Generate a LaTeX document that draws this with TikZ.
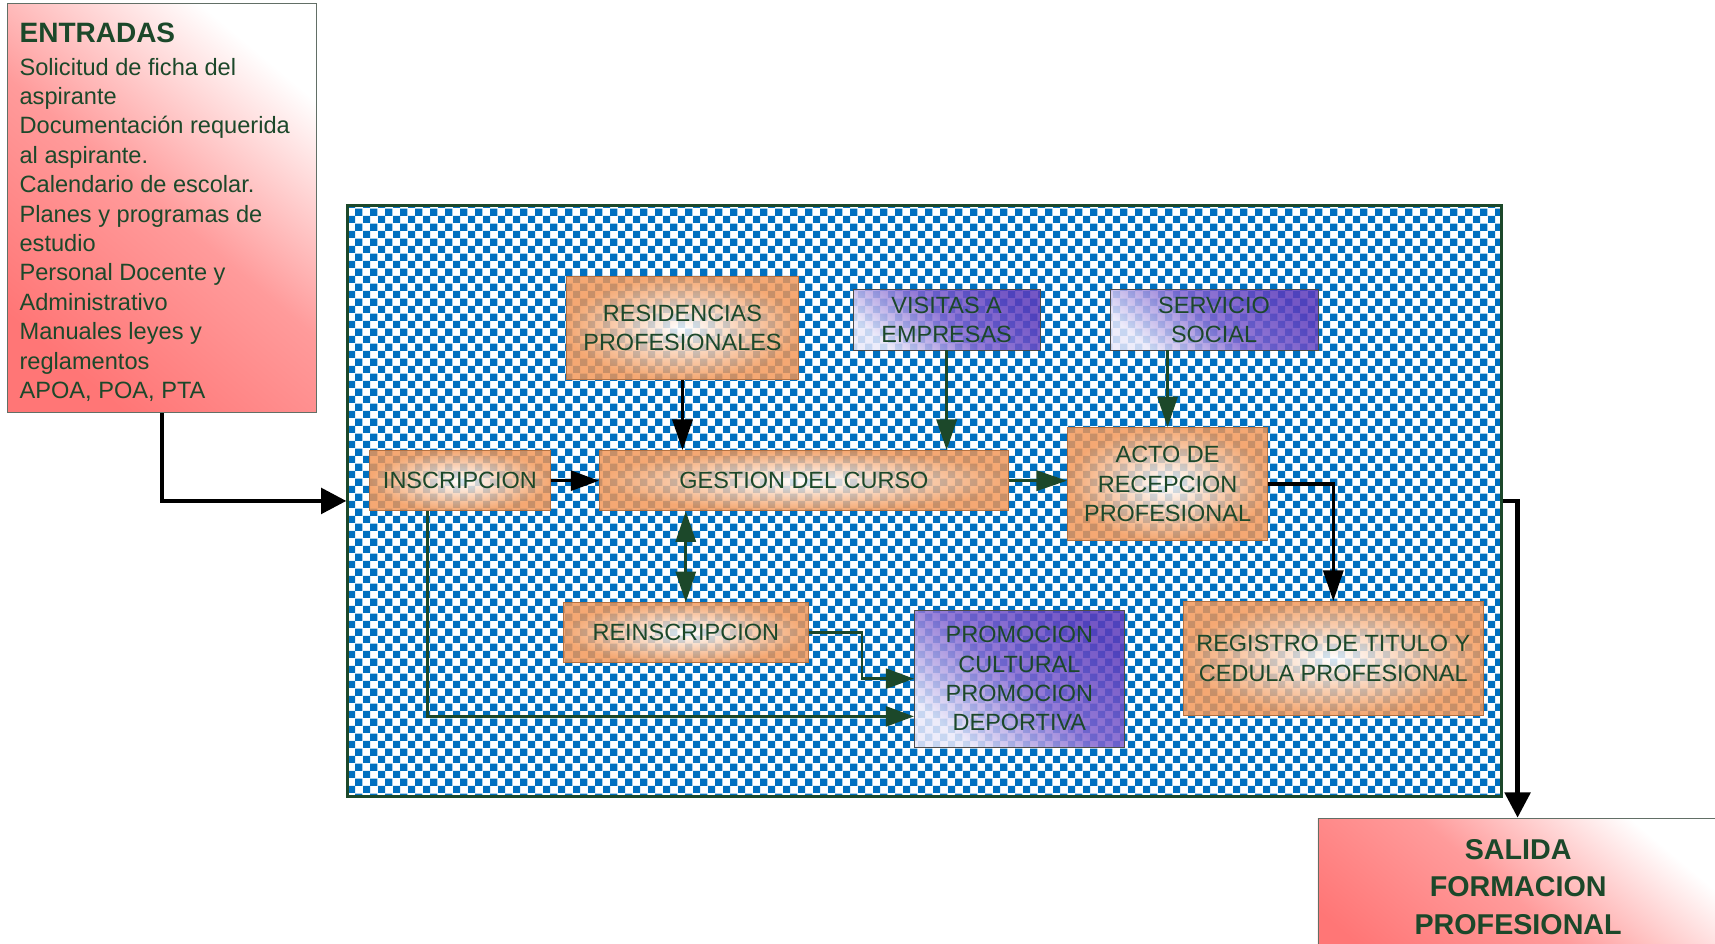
\documentclass[tikz,border=0pt]{standalone}
\usepackage{fontspec}
\setmainfont{Liberation Sans}
\usetikzlibrary{arrows.meta,patterns}
\newdimen\upx \upx=0.8203pt
\definecolor{tgreen}{RGB}{28,72,42}
\definecolor{cblue}{RGB}{0,112,192}
\definecolor{lred}{RGB}{255,118,118}
\definecolor{mred}{RGB}{255,155,155}
\definecolor{orng}{RGB}{243,150,85}
\definecolor{purp}{RGB}{92,58,188}
\definecolor{mpurp}{RGB}{130,100,208}
\definecolor{lpurp}{RGB}{235,233,250}
\newcommand\boxfont{\fontsize{17.6}{22}\selectfont}
\begin{document}
\begin{tikzpicture}[x=0.8203pt,y=-0.8203pt,
  sz/.style 2 args={minimum width=#1\upx, minimum height=#2\upx, inner sep=0pt},
  obox/.style={draw=orng!75!black, line width=0.7pt, inner color=white, outer color=orng,
    fill opacity=0.82, text opacity=1, text=tgreen, font=\boxfont, align=center},
  pbox/.style={draw=gray!60!black, line width=0.7pt, top color=purp, bottom color=lpurp,
    middle color=mpurp, shading angle=-40, fill opacity=0.85, text opacity=1,
    text=tgreen, font=\boxfont, align=center},
  rbox/.style={draw=gray!70!tgreen, line width=0.7pt, top color=white, bottom color=lred,
    middle color=mred, shading angle=-40},
  bigarr/.style={line width=3.5pt, black, -{Triangle[length=19pt,width=19pt]}},
  midarr/.style={line width=2.4pt, -{Triangle[length=23pt,width=15pt]}},
  thinarr/.style={line width=1.9pt, -{Triangle[length=21pt,width=15pt]}},
  dblarr/.style={line width=2.4pt, {Triangle[length=23pt,width=15pt]}-{Triangle[length=23pt,width=15pt]}}
]
\path[use as bounding box] (0,0) rectangle (1568,863);
\clip (0,0) rectangle (1568,863);
\fill[white] (0,0) rectangle (1568,863);

% main process area
\node[sz={1055}{540}, draw=tgreen, line width=2.2pt, pattern=checkerboard, pattern color=cblue] (main) at (845.5,458) {};

% inputs
\node[sz={282}{374}, rbox] (entradas) at (148,190) {};
\node[anchor=base west, inner sep=0pt, text=tgreen, font=\fontsize{21}{24}\selectfont\bfseries] (entT) at (17.7,39) {ENTRADAS};
\node[anchor=base west, inner sep=0pt, text=tgreen, font=\fontsize{17.7}{22.05}\selectfont] (entL) at (17.7,68.6)
 {\begin{tabular}[t]{@{}l@{}}Solicitud de ficha del\\ aspirante\\ Documentación requerida\\ al aspirante.\\ Calendario de escolar.\\ Planes y programas de\\ estudio\\ Personal Docente y\\ Administrativo\\ Manuales leyes y\\ reglamentos\\ APOA, POA, PTA\end{tabular}};

% output
\node[sz={365}{152}, rbox] (salida) at (1387.5,824) {};
\node[anchor=base, inner sep=0pt, text=tgreen, font=\fontsize{21.5}{27.9}\selectfont\bfseries] (salT) at (1388,786)
 {\begin{tabular}[t]{@{}c@{}}SALIDA\\ FORMACION\\ PROFESIONAL\end{tabular}};

% process boxes
\node[obox, sz={212}{94}] (resid) at (624,300) {RESIDENCIAS\\PROFESIONALES};
\node[pbox, sz={171}{55}] (visitas) at (865.5,292.5) {VISITAS A\\EMPRESAS};
\node[pbox, sz={190}{55}] (servicio) at (1110,292.5) {SERVICIO\\SOCIAL};
\node[obox, sz={165}{55}] (inscr) at (420.5,439.5) {INSCRIPCION};
\node[obox, sz={374}{55}] (gestion) at (735,439.5) {GESTION DEL CURSO};
\node[obox, sz={183}{103}] (acto) at (1067.5,442.5) {ACTO DE\\RECEPCION\\PROFESIONAL};
\node[obox, sz={224}{55}] (reins) at (627,578.5) {REINSCRIPCION};
\node[pbox, sz={192}{125}] (promo) at (932,620.5) {PROMOCION\\CULTURAL\\PROMOCION\\DEPORTIVA};
\node[obox, sz={274}{104}] (registro) at (1219,602) {REGISTRO DE TITULO Y\\CEDULA PROFESIONAL};

% connectors
\draw[bigarr] (entradas.south) |- (main.west);
\draw[bigarr] (main.east) -| (salida.north);
\draw[thinarr, black] (inscr.east) -- (gestion.west);
\draw[midarr, black] (resid.south) -- (resid.south |- gestion.north);
\draw[midarr, tgreen] (visitas.south) -- (visitas.south |- gestion.north);
\draw[midarr, tgreen] (gestion.east) -- (gestion.east -| acto.west);
\draw[midarr, tgreen] (acto.north |- servicio.south) -- (acto.north);
\draw[midarr, black] (acto.east) -| (registro.north);
\draw[dblarr, tgreen] (reins.north |- gestion.south) -- (reins.north);
\coordinate (rp) at (788,600);
\draw[thinarr, tgreen] (reins.east) -| (rp) |- (promo.west);
\coordinate (ib) at (391,655);
\draw[thinarr, tgreen] (ib |- inscr.south) -- (ib) -- (ib -| promo.west);
\end{tikzpicture}
\end{document}
